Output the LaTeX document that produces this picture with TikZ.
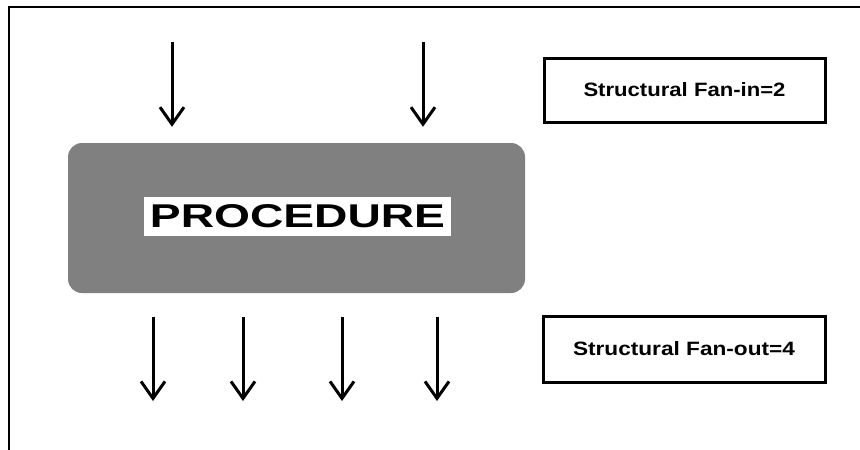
\documentclass[tikz,border=0pt]{standalone}
\usepackage{fontspec}
\setmainfont{Liberation Sans}
\usetikzlibrary{arrows.meta}
\begin{document}
\begin{tikzpicture}[x=1pt,y=-1pt,
  frameline/.style={line width=2pt,black},
  procbox/.style={fill=gray,rounded corners=14pt,minimum width=457pt,minimum height=150pt,inner sep=0pt},
  titlebox/.style={fill=white,minimum width=307pt,minimum height=39pt,inner sep=0pt},
  infobox/.style={draw=black,line width=3pt,fill=white,inner sep=0pt},
  flow/.style={line width=3pt,-{Straight Barb[length=17pt,width=24pt]}}]
  \useasboundingbox (0,0) rectangle (860,450);
  % open frame: top and left edges
  \draw[frameline] (9,450) -- (9,7) -- (861,7);

  % the procedure
  \node[procbox] (proc) at (296.5,218) {};
  \node[titlebox] (title) at (297.5,216.5)
    {\resizebox{295pt}{23pt}{\bfseries PROCEDURE}};

  % incoming calls
  \coordinate (in1) at (172,42);
  \coordinate (in2) at (423,42);
  \foreach \c in {in1,in2}
    \draw[flow,shorten >=16pt] (\c) -- (\c |- proc.north);

  % outgoing calls
  \coordinate (out1) at (153,401);
  \coordinate (out2) at (243,401);
  \coordinate (out3) at (342,401);
  \coordinate (out4) at (437,401);
  \foreach \c in {out1,out2,out3,out4}
    \draw[flow,shorten <=24pt] (\c |- proc.south) -- (\c);

  % legends
  \node[infobox,minimum width=281pt,minimum height=64pt] (fanin) at (684.5,90)
    {\resizebox{202pt}{14pt}{\bfseries Structural Fan-in=2}};
  \node[infobox,minimum width=282pt,minimum height=66pt] (fanout) at (684,349)
    {\resizebox{222pt}{14pt}{\bfseries Structural Fan-out=4}};
\end{tikzpicture}
\end{document}
